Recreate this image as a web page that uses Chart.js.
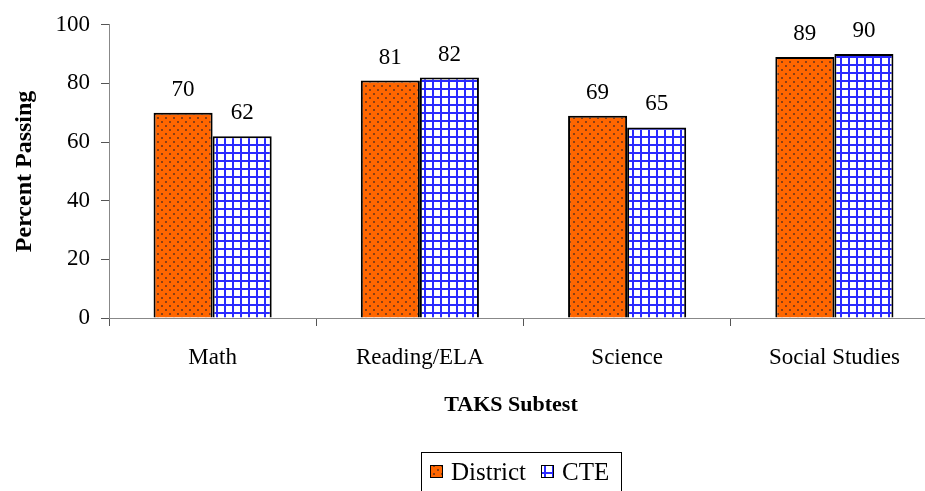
<!DOCTYPE html>
<html>
<head>
<meta charset="utf-8">
<script src="https://cdn.jsdelivr.net/npm/chart.js@4.4.0/dist/chart.umd.min.js"></script>
<style>
  html, body { margin: 0; padding: 0; background: #fff; overflow: hidden; }
  #wrap { width: 945px; height: 491px; }
</style>
</head>
<body>
<div id="wrap"><canvas id="barChart" width="945" height="491"></canvas></div>
<script>
const subtests = ['Math', 'Reading/ELA', 'Science', 'Social Studies'];
const districtValues = [70, 81, 69, 89];
const cteValues = [62, 82, 65, 90];
const seriesNames = ['District', 'CTE'];
const yTicks = [0, 20, 40, 60, 80, 100];

const FONT = '"Liberation Serif", "Times New Roman", serif';

// orange with dark dots
function dotPattern() {
  const c = document.createElement('canvas');
  c.width = 8; c.height = 8;
  const g = c.getContext('2d');
  g.fillStyle = '#ff6600';
  g.fillRect(0, 0, 8, 8);
  g.fillStyle = '#8a4015';
  g.fillRect(1, 1, 2, 2);
  g.fillRect(5, 5, 2, 2);
  return g.createPattern(c, 'repeat');
}

// blue grid on white
function gridPattern() {
  const c = document.createElement('canvas');
  c.width = 8; c.height = 8;
  const g = c.getContext('2d');
  g.fillStyle = '#ffffff';
  g.fillRect(0, 0, 8, 8);
  g.fillStyle = '#2a2aff';
  g.fillRect(0, 0, 8, 2);
  g.fillRect(0, 0, 2, 8);
  return g.createPattern(c, 'repeat');
}

const districtFill = dotPattern();
const cteFill = gridPattern();

const valueLabels = {
  id: 'valueLabels',
  afterDatasetsDraw(chart) {
    const ctx = chart.ctx;
    ctx.save();
    ctx.font = '23px ' + FONT;
    ctx.fillStyle = '#000';
    ctx.textAlign = 'center';
    ctx.textBaseline = 'alphabetic';
    chart.data.datasets.forEach((ds, i) => {
      chart.getDatasetMeta(i).data.forEach((bar, j) => {
        ctx.fillText(String(ds.data[j]), bar.x, bar.y - 17);
      });
    });
    ctx.restore();
  }
};

// x title sits a bit left of the axis centre in the original, so draw it by hand
const xTitle = {
  id: 'xTitle',
  afterDraw(chart) {
    const ctx = chart.ctx;
    ctx.save();
    ctx.font = 'bold 22px ' + FONT;
    ctx.fillStyle = '#000';
    ctx.textAlign = 'center';
    ctx.textBaseline = 'middle';
    ctx.fillText('TAKS Subtest', 511, 405);
    ctx.restore();
  }
};

const boxLegend = {
  id: 'boxLegend',
  afterDraw(chart) {
    const ctx = chart.ctx;
    const fills = [districtFill, cteFill];
    ctx.save();
    ctx.strokeStyle = '#000';
    ctx.lineWidth = 1;
    ctx.strokeRect(421.5, 452.5, 200, 45);
    ctx.font = '25px ' + FONT;
    ctx.textBaseline = 'middle';
    const xs = [430, 541];
    seriesNames.forEach((name, i) => {
      ctx.fillStyle = fills[i];
      ctx.fillRect(xs[i], 465, 13, 13);
      ctx.fillStyle = '#000';
      ctx.strokeRect(xs[i] + 0.5, 465.5, 12, 12);
      ctx.fillText(name, xs[i] + 21, 473);
    });
    ctx.restore();
  }
};

new Chart(document.getElementById('barChart').getContext('2d'), {
  type: 'bar',
  data: {
    labels: subtests,
    datasets: [{
      label: seriesNames[0],
      data: districtValues,
      backgroundColor: districtFill,
      borderColor: '#000',
      borderWidth: 2,
      categoryPercentage: 0.57,
      barPercentage: 1
    }, {
      label: seriesNames[1],
      data: cteValues,
      backgroundColor: cteFill,
      borderColor: '#000',
      borderWidth: 2,
      categoryPercentage: 0.57,
      barPercentage: 1
    }]
  },
  options: {
    responsive: false,
    animation: false,
    layout: { padding: { top: 24, right: 7, bottom: 53, left: 0 } },
    plugins: {
      legend: { display: false },
      tooltip: { enabled: false }
    },
    scales: {
      x: {
        grid: { drawOnChartArea: false, offset: true, tickLength: 8, color: '#555' },
        border: { color: '#888', width: 1 },
        ticks: { font: { family: FONT, size: 23 }, color: '#000', padding: 18, maxRotation: 0 },
        afterFit(scale) { scale.height = 120; }
      },
      y: {
        min: 0,
        max: 100,
        afterBuildTicks(scale) { scale.ticks = yTicks.map(v => ({ value: v })); },
        grid: { drawOnChartArea: false, tickLength: 8, color: '#555' },
        border: { color: '#888', width: 1 },
        ticks: { font: { family: FONT, size: 23 }, color: '#000', padding: 11 },
        title: { display: true, text: 'Percent Passing', font: { family: FONT, size: 24, weight: 'bold' }, color: '#000', padding: { top: 10, bottom: 0 } },
        afterFit(scale) { scale.width = 109; }
      }
    }
  },
  plugins: [valueLabels, xTitle, boxLegend]
});
</script>
</body>
</html>
